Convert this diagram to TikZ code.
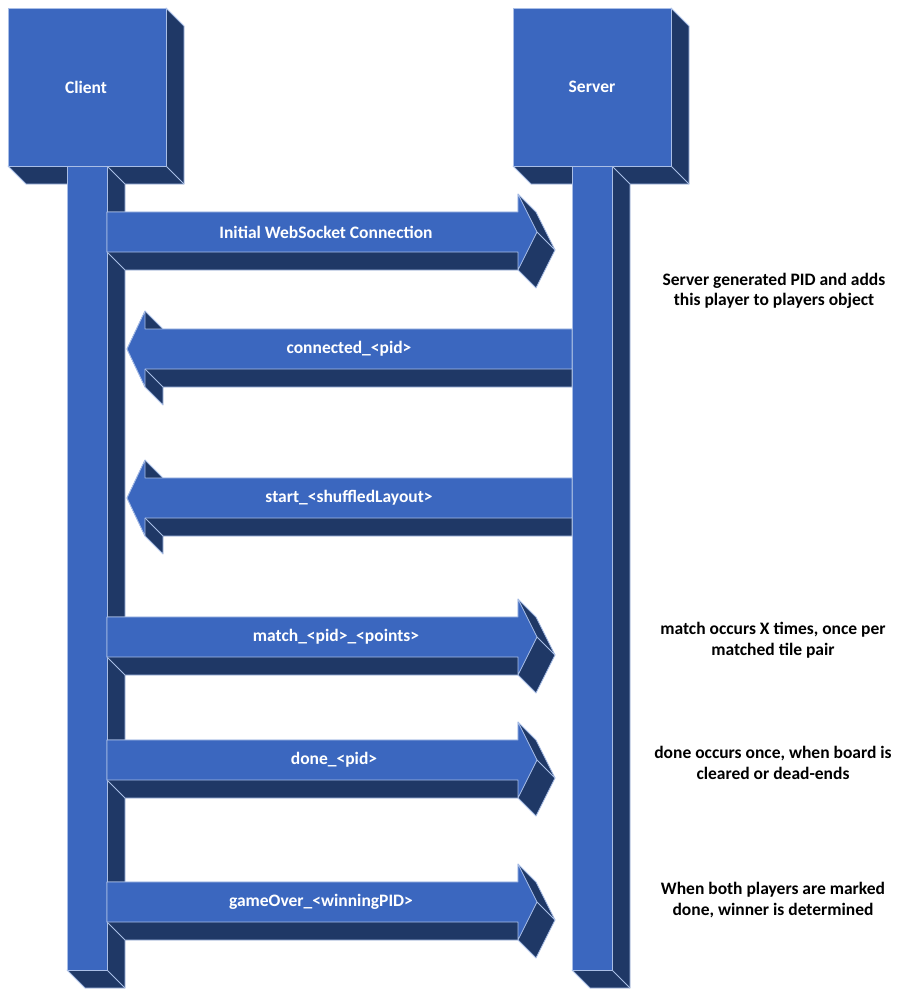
\documentclass[tikz,border=0pt]{standalone}
\usepackage{fontspec}
\setmainfont{Carlito}
\definecolor{frontBlue}{HTML}{3B67BF}
\definecolor{sideBlue}{HTML}{1F3866}
\definecolor{edgeBlue}{HTML}{A9BEE6}

\begin{document}
\begin{tikzpicture}[x = 1pt, y = -1pt, font = \bfseries\fontsize{17.5}{20.5}\selectfont]
	\tikzstyle{frontStyle}=[fill = frontBlue, draw = edgeBlue, line width = 0.8pt, line join = round]
	\tikzstyle{sideStyle}=[fill = sideBlue, draw = edgeBlue, line width = 0.8pt, line join = round]
	\tikzstyle{labelStyle}=[text = white, inner sep = 0pt]
	\tikzstyle{noteStyle}=[align = center, text = black, inner sep = 0pt]
	\useasboundingbox (0,0) rectangle (898,990);
	% boxes and lifelines
	\foreach \x in {8, 513} {
		\draw[sideStyle] (\x+158,8) -- (\x+176,26) -- (\x+176,184) -- (\x+18,184) -- (\x,166) -- (\x+158,166) -- cycle;
		\draw[sideStyle] (\x+158,166) -- (\x+176,184);
		\draw[sideStyle] (\x+99,166) -- (\x+117,184) -- (\x+117,988) -- (\x+77,988) -- (\x+59,970) -- (\x+99,970) -- cycle;
		\draw[sideStyle] (\x+99,970) -- (\x+117,988);
		\draw[frontStyle] (\x+59,166) rectangle (\x+99,970);
		\draw[frontStyle] (\x,8) rectangle (\x+158,166);
	}
	\node[labelStyle] (client) at (86,87) {Client};
	\node[labelStyle] (server) at (592,87) {Server};
	% client to server
	\foreach \c/\lx/\txt/\nm in {232/326/Initial WebSocket Connection/m1, 637/336/match\_<pid>\_<points>/m4, 760/334/done\_<pid>/m5, 902/321/gameOver\_<winningPID>/m6} {
		\draw[sideStyle] (107,\c-20) -- (518,\c-20) -- (518,\c-38) -- (536,\c-20) -- (555,\c+18) -- (536,\c+56) -- (518,\c+38) -- (125,\c+38) -- (107,\c+20) -- cycle;
		\draw[frontStyle] (107,\c-20) -- (518,\c-20) -- (518,\c-38) -- (537,\c) -- (518,\c+38) -- (518,\c+20) -- (107,\c+20) -- cycle;
		\draw[sideStyle] (537,\c) -- (555,\c+18);
		\node[labelStyle] (\nm) at (\lx,\c) {\txt};
	}
	% server to client
	\foreach \c/\txt/\nm in {349/connected\_<pid>/m2, 498/start\_<shuffledLayout>/m3} {
		\draw[sideStyle] (127,\c) -- (145,\c-38) -- (163,\c-20) -- (572,\c-20) -- (572,\c+38) -- (163,\c+38) -- (163,\c+56) -- (145,\c+38) -- cycle;
		\draw[frontStyle] (572,\c-20) -- (145,\c-20) -- (145,\c-38) -- (127,\c) -- (145,\c+38) -- (145,\c+20) -- (572,\c+20) -- cycle;
		\draw[sideStyle] (145,\c+20) -- (163,\c+38);
		\node[labelStyle] (\nm) at (349,\c) {\txt};
	}
	\node[noteStyle] (n1) at (774,291) {Server generated PID and adds\\this player to players object};
	\node[noteStyle] (n2) at (773,640) {match occurs X times, once per\\matched tile pair};
	\node[noteStyle] (n3) at (773,763) {done occurs once, when board is\\cleared or dead-ends};
	\node[noteStyle] (n4) at (773,900) {When both players are marked\\done, winner is determined};
\end{tikzpicture}
\end{document}
